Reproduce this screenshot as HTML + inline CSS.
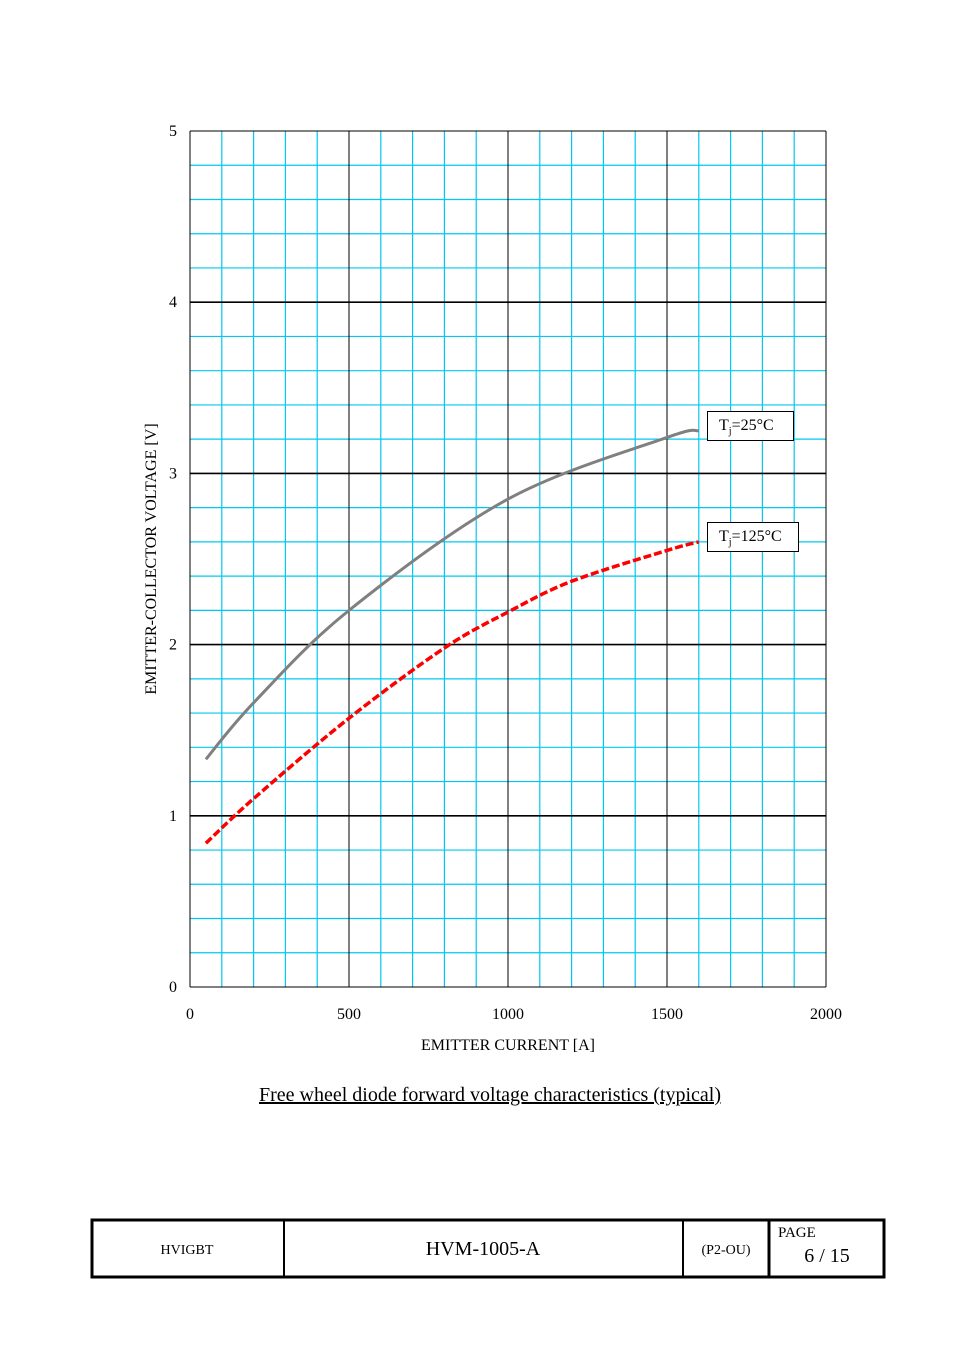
<!DOCTYPE html>
<html><head><meta charset="utf-8"><style>
body{margin:0;background:#fff;}
svg, svg text, svg tspan{font-family:"Liberation Serif","Times New Roman",serif;}
svg text{fill:#000;}
</style></head><body>
<svg width="954" height="1351" viewBox="0 0 954 1351" xmlns="http://www.w3.org/2000/svg" font-family="Liberation Serif, serif">
<g id="grid"></g>
<g id="ticks"></g>
<g id="series"></g>
<text x="508" y="1050" text-anchor="middle" font-size="16" font-family="Liberation Serif, serif">EMITTER CURRENT [A]</text>
<text transform="translate(156,559) rotate(-90)" text-anchor="middle" font-size="16" font-family="Liberation Serif, serif">EMITTER-COLLECTOR VOLTAGE [V]</text>
<text x="490" y="1101" text-anchor="middle" font-size="20" font-family="Liberation Serif, serif" text-decoration="underline">Free wheel diode forward voltage characteristics (typical)</text>
<g>
<rect x="707.5" y="411.5" width="86" height="29" fill="#fff" stroke="#000"/>
<text x="719" y="430" font-size="16" font-family="Liberation Serif, serif">T<tspan font-size="10" dy="4">j</tspan><tspan dy="-4">=25°C</tspan></text></g>
<g>
<rect x="707.5" y="522.5" width="91" height="29" fill="#fff" stroke="#000"/>
<text x="719" y="541" font-size="16" font-family="Liberation Serif, serif">T<tspan font-size="10" dy="4">j</tspan><tspan dy="-4">=125°C</tspan></text></g>
<g>
<rect x="92" y="1220" width="792" height="57" fill="none" stroke="#000" stroke-width="3"/>
<line x1="284" y1="1220" x2="284" y2="1277" stroke="#000" stroke-width="2"/>
<line x1="683" y1="1220" x2="683" y2="1277" stroke="#000" stroke-width="2"/>
<line x1="769" y1="1220" x2="769" y2="1277" stroke="#000" stroke-width="3"/>
<text x="187" y="1254" text-anchor="middle" font-size="14" font-family="Liberation Serif, serif">HVIGBT</text>
<text x="483" y="1255" text-anchor="middle" font-size="20" font-family="Liberation Serif, serif">HVM-1005-A</text>
<text x="726" y="1254" text-anchor="middle" font-size="14" font-family="Liberation Serif, serif">(P2-OU)</text>
<text x="778" y="1237" font-size="15" font-family="Liberation Serif, serif">PAGE</text>
<text x="827" y="1262" text-anchor="middle" font-size="20" font-family="Liberation Serif, serif">6 / 15</text>
</g>
</svg>
<script>
const xTicks=[0,500,1000,1500,2000];
const yTicks=[0,1,2,3,4,5];
const currents25=[50,200,500,1000,1500,1600];
const volts25=[1.33,1.66,2.2,2.85,3.21,3.25];
const currents125=[50,200,500,800,1000,1200,1500,1600];
const volts125=[0.84,1.10,1.57,1.98,2.19,2.37,2.55,2.60];
const X0=190,X1=826,Y0=987,Y1=131;
const sx=v=>X0+(v-0)/2000*(X1-X0);
const sy=v=>Y0-(v-0)/5*(Y0-Y1);
const NS="http://www.w3.org/2000/svg";
const grid=document.getElementById('grid');
function ln(x1,y1,x2,y2,c,w,name){const l=document.createElementNS(NS,'line');
l.setAttribute('x1',x1);l.setAttribute('y1',y1);l.setAttribute('x2',x2);l.setAttribute('y2',y2);
l.setAttribute('stroke',c);l.setAttribute('stroke-width',w);


grid.appendChild(l);}
for(let i=0;i<=20;i++){const x=sx(i*100);if(i%5!==0)ln(x,Y1,x,Y0,'#00c8f0',1.2,'grid-line-x');}
for(let i=0;i<=25;i++){const y=sy(i*0.2);if(i%5!==0)ln(X0,y,X1,y,'#00c8f0',1.2,'grid-line-y');}
for(let i=0;i<=20;i+=5){ln(sx(i*100),Y1,sx(i*100),Y0,'#000',1,'major-grid-x');}
for(let i=0;i<=5;i++){ln(X0,sy(i),X1,sy(i),'#000',(i===0||i===5)?1:1.6,'major-grid-y');}
const tk=document.getElementById('ticks');
xTicks.forEach(v=>{const t=document.createElementNS(NS,'text');t.setAttribute('x',sx(v));t.setAttribute('y',1019);
t.setAttribute('text-anchor','middle');t.setAttribute('font-size','16');t.setAttribute('font-family','Liberation Serif, serif');t.textContent=v;


tk.appendChild(t);});
yTicks.forEach(v=>{const t=document.createElementNS(NS,'text');t.setAttribute('x',177);t.setAttribute('y',sy(v)+5);
t.setAttribute('text-anchor','end');t.setAttribute('font-size','16');t.setAttribute('font-family','Liberation Serif, serif');t.textContent=v;


tk.appendChild(t);});
function pathD(xs,ys){const p=xs.map((x,i)=>[sx(x),sy(ys[i])]);let d='M'+p[0][0]+','+p[0][1];
for(let i=0;i<p.length-1;i++){const a=p[i-1]||p[i],b=p[i],c=p[i+1],e=p[i+2]||c;
d+=' C'+(b[0]+(c[0]-a[0])/6)+','+(b[1]+(c[1]-a[1])/6)+' '+(c[0]-(e[0]-b[0])/6)+','+(c[1]-(e[1]-b[1])/6)+' '+c[0]+','+c[1];}return d;}
const ser=document.getElementById('series');
const p1=document.createElementNS(NS,'path');p1.setAttribute('d',pathD(currents25,volts25));
p1.setAttribute('fill','none');p1.setAttribute('stroke','#808080');p1.setAttribute('stroke-width','3');


ser.appendChild(p1);
const p2=document.createElementNS(NS,'path');p2.setAttribute('d',pathD(currents125,volts125));
p2.setAttribute('fill','none');p2.setAttribute('stroke','#ff0000');p2.setAttribute('stroke-width','3.5');p2.setAttribute('stroke-dasharray','8,3');


ser.appendChild(p2);
</script>
</body></html>
